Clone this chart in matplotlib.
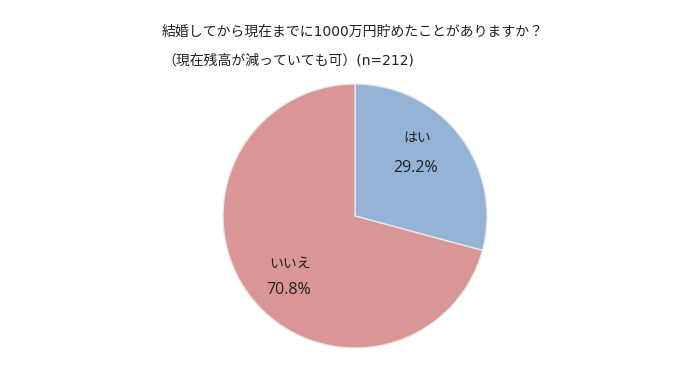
import matplotlib
matplotlib.use("Agg")
import matplotlib.pyplot as plt

plt.rcParams['font.family'] = ['DejaVu Sans', 'Noto Sans CJK JP']

categories = ["はい", "いいえ"]
values = [29.2, 70.8]
colors = ["#95B3D7", "#D99694"]
title_lines = ["結婚してから現在までに1000万円貯めたことがありますか？",
               "（現在残高が減っていても可）(n=212)"]

W, H = 700, 376
fig = plt.figure(figsize=(W / 100, H / 100), dpi=100)
cx, cy, r = 355, 216, 132
ax = fig.add_axes([(cx - r) / W, (H - cy - r) / H, 2 * r / W, 2 * r / H])
ax.pie(values, colors=colors, startangle=90, counterclock=False, radius=1,
       wedgeprops=dict(edgecolor="#E8E8E8", linewidth=1))
ax.set_xlim(-1, 1)
ax.set_ylim(-1, 1)
ax.set_aspect('equal')
ax.axis('off')

label_pos = [((0.47, 0.59), (0.46, 0.36)), ((-0.49, -0.36), (-0.50, -0.56))]
for cat, val, (p1, p2) in zip(categories, values, label_pos):
    ax.text(p1[0], p1[1], cat, ha='center', va='center', fontsize=10,
            color='#222222', family=['Noto Sans CJK JP'])
    ax.text(p2[0], p2[1], f"{val:.1f}%", ha='center', va='center', fontsize=11.5,
            color='#222222', family=['Open Sans', 'DejaVu Sans'])

fig.text(162 / W, 1 - 32 / H, title_lines[0], ha='left', va='center', fontsize=10, color='#222222')
fig.text(162 / W, 1 - 60 / H, title_lines[1], ha='left', va='center', fontsize=10, color='#222222')

fig.savefig("out.png", dpi=100)
